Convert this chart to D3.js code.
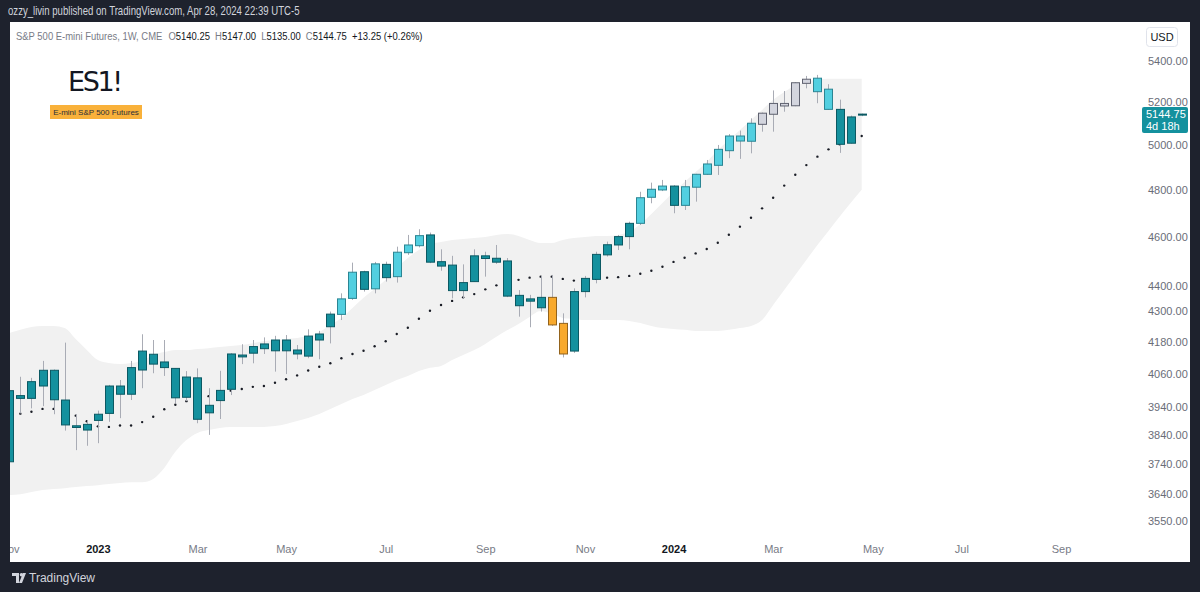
<!DOCTYPE html>
<html>
<head>
<meta charset="utf-8">
<script src="https://cdn.jsdelivr.net/npm/d3@7"></script>
<style>
  body { margin: 0; background: #1e222d; }
  svg { display: block; font-family: "Liberation Sans", Roboto, sans-serif; }
</style>
</head>
<body>
<div id="chart"></div>
<script>
// ES1! weekly bars, first bar = week of 7 Nov 2022
const firstWeek = Date.UTC(2022, 10, 7);

const opens = [3747,3980,3970,4015,4073,3964,3872,3857,3891,3916,
  4015,3985,4074,4133,4104,4080,3974,4045,3918,3962,
  4003,4130,4137,4154,4146,4187,4149,4126,4187,4238,
  4286,4349,4456,4387,4486,4436,4534,4563,4608,4497,
  4483,4380,4416,4521,4511,4500,4361,4347,4312,4353,
  4251,4145,4376,4425,4525,4566,4601,4657,4769,4801,
  4818,4734,4813,4870,4910,4976,5043,5019,5097,5144,
  5195,5184,5291,5316,5263,5167,5010,5140.25];
const highs = [4004,4049,4045,4108,4076,4177,3913,3892,3926,4019,
  4037,4108,4209,4187,4187,4081,4070,4080,4007,4071,
  4137,4171,4187,4197,4203,4206,4168,4228,4222,4297,
  4369,4493,4460,4496,4497,4559,4608,4632,4618,4548,
  4521,4486,4548,4538,4566,4512,4382,4363,4439,4443,
  4290,4389,4439,4538,4580,4608,4664,4793,4833,4845,
  4822,4845,4872,4934,5002,5052,5068,5125,5152,5257,
  5254,5297,5327,5332,5287,5213,5138,5147];
const lows = [3739,3916,3934,3942,3913,3855,3787,3802,3811,3886,
  3899,3964,4007,4062,4052,3953,3960,3881,3840,3896,
  3982,4096,4099,4134,4068,4059,4114,4118,4114,4174,
  4264,4343,4376,4369,4416,4412,4525,4556,4491,4460,
  4349,4349,4415,4436,4488,4354,4277,4236,4297,4241,
  4121,4138,4353,4409,4518,4545,4548,4650,4743,4796,
  4700,4714,4750,4867,4867,4942,4939,4964,5063,5063,
  5156,5182,5267,5196,5164,4966,5008,5135];
const closes = [3998,3970,4031,4073,3965,3875,3866,3877,3913,4015,
  3985,4083,4145,4096,4083,3972,4048,3895,3945,3999,
  4134,4123,4162,4172,4187,4146,4134,4202,4210,4287,
  4347,4454,4385,4488,4432,4536,4566,4605,4495,4479,
  4380,4412,4521,4510,4495,4358,4320,4338,4353,4245,
  4134,4376,4429,4527,4567,4601,4657,4767,4804,4818,
  4734,4815,4870,4916,4982,5043,5020,5102,5149,5195,
  5183,5294,5311,5251,5167,5005,5131.5,5144.75];
// bar colour class: d dark teal, l light cyan, g grey, o orange
const barColors = ("dddddddddddddddddddddddddddddd" + "lldldllldd" + "dddddddddo" +
  "oddddddlll" + "dlllllllgg" + "gggllddd").split("");

// 20-week average (dots) and the envelope band
const sma = [3910,3915,3922,3932,3932,3928,3908,3888,3870,3868,
  3873,3873,3885,3904,3931,3947,3960,3970,3978,3988,
  3998,4004,4012,4015,4027,4040,4054,4072,4086,4099,
  4118,4134,4146,4163,4182,4210,4234,4269,4300,4323,
  4339,4353,4366,4385,4401,4410,4423,4432,4436,4436,
  4427,4420,4421,4427,4432,4434,4439,4448,4460,4476,
  4496,4513,4531,4549,4575,4609,4643,4681,4721,4767,
  4820,4868,4911,4949,4982,5005,5025,5043];
const bandUpper = [4214,4226,4237,4241,4241,4233,4191,4149,4111,4100,
  4096,4100,4108,4130,4141,4149,4149,4153,4156,4160,
  4164,4168,4175,4183,4187,4191,4195,4202,4218,4245,
  4272,4311,4351,4386,4423,4471,4512,4545,4570,4578,
  4587,4591,4595,4599,4608,4612,4604,4587,4574,4574,
  4587,4595,4599,4604,4604,4608,4620,4654,4697,4744,
  4792,4836,4880,4925,4979,5025,5071,5117,5164,5212,
  5250,5279,5298,5308,5313,5313,5313,5313];
const bandLower = [3635,3638,3645,3652,3655,3658,3662,3665,3668,3672,
  3675,3678,3678,3689,3726,3781,3822,3847,3857,3864,
  3868,3868,3868,3868,3871,3878,3889,3900,3914,3932,
  3950,3968,3982,4000,4019,4037,4052,4070,4082,4089,
  4111,4130,4149,4172,4199,4225,4249,4276,4299,4288,
  4272,4268,4264,4264,4264,4264,4260,4252,4241,4233,
  4229,4226,4222,4222,4222,4226,4233,4241,4264,4323,
  4382,4443,4504,4566,4625,4685,4744,4802];

const yTicks = [5400,5200,5000,4800,4600,4400,4300,4180,4060,3940,3840,3740,3640,3550];
const xTickLabels = ["Nov","2023","Mar","May","Jul","Sep","Nov","2024","Mar","May","Jul","Sep"];
const xTickDates = ["2022-11-07","2023-01-02","2023-03-06","2023-05-01","2023-07-03","2023-09-04",
  "2023-11-06","2024-01-01","2024-03-04","2024-05-06","2024-07-01","2024-09-02"];

const width = 1200, height = 592;
const weekDate = i => new Date(firstWeek + i * 7 * 864e5);

const fills = { d: "#14919e", l: "#52cfe0", g: "#d3d5de", o: "#f8a92c" };
const strokes = { d: "#0b5963", l: "#2b8593", g: "#5f6270", o: "#93631c" };

const bars = opens.map((o, i) => ({
  date: weekDate(i), o: o, h: highs[i], l: lows[i], c: closes[i], k: barColors[i],
  ma: sma[i], hi: bandUpper[i], lo: bandLower[i]
}));

const x = d3.scaleUtc().domain([weekDate(0), weekDate(77)]).range([9.3, 861.7]);
const y = d3.scaleLog().domain([3550, 5400]).range([521, 61]);

const svg = d3.select("#chart").append("svg")
  .attr("width", width).attr("height", height);

// frame
svg.append("rect").attr("width", width).attr("height", height).attr("fill", "#1e222d");
svg.append("g").attr("transform", "translate(8,0) scale(0.8,1)")
  .append("text").attr("x", 0).attr("y", 15)
  .attr("fill", "#d1d4dc").style("font-size", "12px")
  .text("ozzy_livin published on TradingView.com, Apr 28, 2024 22:39 UTC-5");
svg.append("rect").attr("x", 10).attr("y", 22).attr("width", 1180).attr("height", 540)
  .attr("fill", "#ffffff");

svg.append("clipPath").attr("id", "plot")
  .append("rect").attr("x", 10).attr("y", 22).attr("width", 1130).attr("height", 516);

const plot = svg.append("g").attr("clip-path", "url(#plot)");

// band
plot.append("path").datum(bars)
  .attr("fill", "#f1f1f1")
  .attr("d", d3.area()
    .x(d => x(d.date))
    .y0(d => y(d.lo))
    .y1(d => y(d.hi))
    .curve(d3.curveMonotoneX));

// moving average dots
plot.append("g").selectAll("circle").data(bars).join("circle")
  .attr("cx", d => x(d.date))
  .attr("cy", d => y(d.ma))
  .attr("r", 1.2)
  .attr("fill", "#1a1d26");

// candles
const candle = plot.append("g").selectAll("g").data(bars).join("g");
candle.append("line")
  .attr("x1", d => Math.round(x(d.date)) + 0.5)
  .attr("x2", d => Math.round(x(d.date)) + 0.5)
  .attr("y1", d => y(d.h))
  .attr("y2", d => y(d.l))
  .attr("stroke", "#a9acb5")
  .attr("stroke-width", 1);
candle.append("rect")
  .attr("x", d => Math.round(x(d.date)) - 3.5)
  .attr("width", 8)
  .attr("y", d => y(Math.max(d.o, d.c)))
  .attr("height", d => Math.max(1, Math.abs(y(d.o) - y(d.c))))
  .attr("fill", d => fills[d.k])
  .attr("stroke", d => strokes[d.k])
  .attr("stroke-width", 1);

// price axis
const yAxis = svg.append("g")
  .attr("transform", "translate(1145,0)")
  .call(d3.axisRight(y).tickValues(yTicks).tickFormat(d3.format(".2f")).tickSize(0).tickPadding(3));
yAxis.select(".domain").remove();
yAxis.selectAll("text").attr("fill", "#6a6d78").style("font-size", "11px")
  .style("font-family", "'Liberation Sans', Roboto, sans-serif");

// last price label
const last = bars[bars.length - 1];
const ly = y(last.c);
svg.append("rect").attr("x", 1142).attr("y", ly - 7).attr("width", 46).attr("height", 26)
  .attr("rx", 2).attr("fill", "#14919e");
svg.append("text").attr("x", 1146).attr("y", ly + 4).attr("fill", "#ffffff")
  .style("font-size", "11px").text(d3.format(".2f")(last.c));
svg.append("text").attr("x", 1146).attr("y", ly + 16).attr("fill", "#ffffff")
  .style("font-size", "11px").text("4d 18h");

// USD button
svg.append("rect").attr("x", 1146.5).attr("y", 27.5).attr("width", 31).attr("height", 19)
  .attr("rx", 3).attr("fill", "#fff").attr("stroke", "#e0e3eb");
svg.append("text").attr("x", 1162).attr("y", 41).attr("text-anchor", "middle")
  .attr("fill", "#131722").style("font-size", "11px").text("USD");

// time axis
svg.append("clipPath").attr("id", "timeclip")
  .append("rect").attr("x", 10).attr("y", 538).attr("width", 1130).attr("height", 24);
const xAxis = svg.append("g").attr("clip-path", "url(#timeclip)")
  .append("g")
  .attr("transform", "translate(0,540)")
  .call(d3.axisBottom(x)
    .tickValues(xTickDates.map(s => new Date(s + "T00:00:00Z")))
    .tickFormat((d, i) => xTickLabels[i])
    .tickSize(0).tickPadding(5));
xAxis.select(".domain").remove();
xAxis.selectAll("text")
  .style("font-size", "11px")
  .style("font-family", "'Liberation Sans', Roboto, sans-serif")
  .attr("fill", (d, i) => /^\d+$/.test(xTickLabels[i]) ? "#131722" : "#787b86")
  .style("font-weight", (d, i) => /^\d+$/.test(xTickLabels[i]) ? "bold" : "normal");

// legend
const legend = svg.append("g").attr("transform", "translate(16,0) scale(0.86,1)")
  .append("text").attr("x", 0).attr("y", 40).style("font-size", "11px");
legend.append("tspan").attr("fill", "#787b86").text("S&P 500 E-mini Futures, 1W, CME");
const ohlc = [["O", last.o], ["H", last.h], ["L", last.l], ["C", last.c]];
ohlc.forEach(([k, v], i) => {
  legend.append("tspan").attr("dx", i === 0 ? 7 : 6).attr("fill", "#787b86").text(k);
  legend.append("tspan").attr("fill", "#131722").text(d3.format(".2f")(v));
});
const chg = last.c - bars[bars.length - 2].c;
legend.append("tspan").attr("dx", 6).attr("fill", "#131722")
  .text("+" + d3.format(".2f")(chg) + " (+" + d3.format(".2f")(chg / bars[bars.length - 2].c * 100) + "%)");

// symbol title and badge
svg.append("text").attr("x", 68).attr("y", 91)
  .attr("fill", "#131722").style("font-family", "'DejaVu Sans', sans-serif")
  .style("font-size", "27px").attr("textLength", 55).text("ES1!");
svg.append("rect").attr("x", 50).attr("y", 105).attr("width", 92).attr("height", 14)
  .attr("fill", "#f9b13a");
svg.append("text").attr("x", 96).attr("y", 115).attr("text-anchor", "middle")
  .attr("fill", "#2a2e39").style("font-size", "8px").text("E-mini S&P 500 Futures");

// footer logo
const logo = svg.append("g").attr("fill", "#d1d4dc");
logo.append("path").attr("d", "M12,573 h7 v10 h-3 v-7 h-4 z");
logo.append("circle").attr("cx", 21.5).attr("cy", 574.8).attr("r", 1.8);
logo.append("path").attr("d", "M23,573 h3 l-4,10 h-3 z");
svg.append("text").attr("x", 29).attr("y", 582).attr("fill", "#d1d4dc")
  .style("font-size", "12px").text("TradingView");
</script>
</body>
</html>
